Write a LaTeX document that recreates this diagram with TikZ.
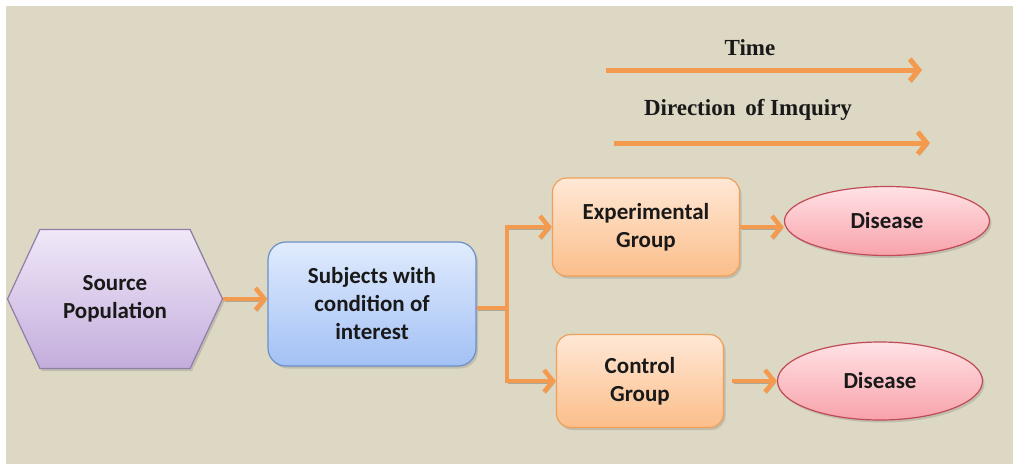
\documentclass[tikz,border=0pt]{standalone}
\usepackage{fontspec}
\setmainfont{Liberation Serif}
\newfontfamily\boxfont{Carlito}
\usetikzlibrary{arrows.meta,shapes.geometric,shapes.symbols,shadows}
\definecolor{bgbeige}{HTML}{DDD8C3}
\definecolor{arrorange}{HTML}{F49A4E}
\definecolor{hexline}{HTML}{8F7EA8}
\definecolor{hextop}{HTML}{F0E8F8}
\definecolor{hexbot}{HTML}{C3ADDC}
\definecolor{subjline}{HTML}{6C8FC7}
\definecolor{subjtop}{HTML}{E0EBFD}
\definecolor{subjbot}{HTML}{A3C1F5}
\definecolor{grpline}{HTML}{F0A05A}
\definecolor{grptop}{HTML}{FFE8D6}
\definecolor{grpbot}{HTML}{FBBE8A}
\definecolor{disline}{HTML}{BE4B55}
\definecolor{distop}{HTML}{FFE2E5}
\definecolor{disbot}{HTML}{F8A2AB}
\begin{document}
\begin{tikzpicture}[x=1pt,y=-1pt,
    shape text/.style={align=center,text=black!90,
      font=\boxfont\bfseries\fontsize{23}{28}\selectfont},
    shadowed/.style={drop shadow={shadow xshift=2pt,shadow yshift=-2.5pt,opacity=0.3}},
    hexa/.style={shape text,shadowed,signal,signal to=west and east,
      signal pointer angle=130,draw=hexline,line width=1.2pt,
      top color=hextop,bottom color=hexbot,
      minimum width=215pt,minimum height=139pt},
    subjbox/.style={shape text,shadowed,rectangle,rounded corners=18pt,
      draw=subjline,line width=1.2pt,top color=subjtop,bottom color=subjbot},
    grpbox/.style={shape text,shadowed,rectangle,rounded corners=14pt,
      draw=grpline,line width=1.2pt,top color=grptop,bottom color=grpbot},
    disease/.style={shape text,shadowed,ellipse,inner sep=0pt,
      draw=disline,line width=1.2pt,top color=distop,bottom color=disbot},
    lbl/.style={font=\bfseries\fontsize{23}{28}\selectfont,text=black!90},
    flow/.style={draw=arrorange,line width=4.5pt,
      preaction={draw=black,opacity=0.22,transform canvas={shift={(1.5pt,-2pt)}}},
      -{Straight Barb[length=9pt,width=22pt]}},
    flowline/.style={draw=arrorange,line width=4.5pt,
      preaction={draw=black,opacity=0.22,transform canvas={shift={(1.5pt,-2pt)}}}}]

  \fill[white] (0,0) rectangle (1013,464);
  \fill[bgbeige] (6,6) rectangle (1013,464);
  \useasboundingbox (0,0) rectangle (1013,464);

  \node[hexa] (src) at (115,299) {Source\\Population};
  \node[subjbox,minimum width=208pt,minimum height=124pt] (subj) at (372,304)
    {Subjects with\\condition of\\interest};
  \node[grpbox,minimum width=187pt,minimum height=98pt] (exp) at (646,227)
    {Experimental\\Group};
  \node[grpbox,minimum width=167pt,minimum height=93pt] (ctl) at (640,381)
    {Control\\Group};
  \node[disease,minimum width=205pt,minimum height=69pt] (dis1) at (887,221) {Disease};
  \node[disease,minimum width=205pt,minimum height=78pt] (dis2) at (880,381) {Disease};

  \coordinate (fork) at (507,308);
  \draw[flow] (src.east) -- (src.east -| subj.west);
  \draw[flowline] (subj.east |- fork) -- (fork);
  \draw[flow] (fork) |- (exp.west);
  \draw[flow] (fork) |- (ctl.west);
  \draw[flow] (exp.east) -- (exp.east -| dis1.west);
  \draw[flow,shorten <=8pt] (ctl.east) -- (dis2.west);

  \node[lbl] (time) at (750,48) {Time};
  \coordinate (t0) at (606,70);
  \coordinate (t1) at (922,70);
  \draw[flow,line width=5pt] (t0) -- (t1);

  \node[lbl] (inq) at (748,110) {Direction\hspace{4pt} of Imquiry};
  \coordinate (q0) at (614,143);
  \coordinate (q1) at (930,143);
  \draw[flow,line width=5pt] (q0) -- (q1);
\end{tikzpicture}
\end{document}
